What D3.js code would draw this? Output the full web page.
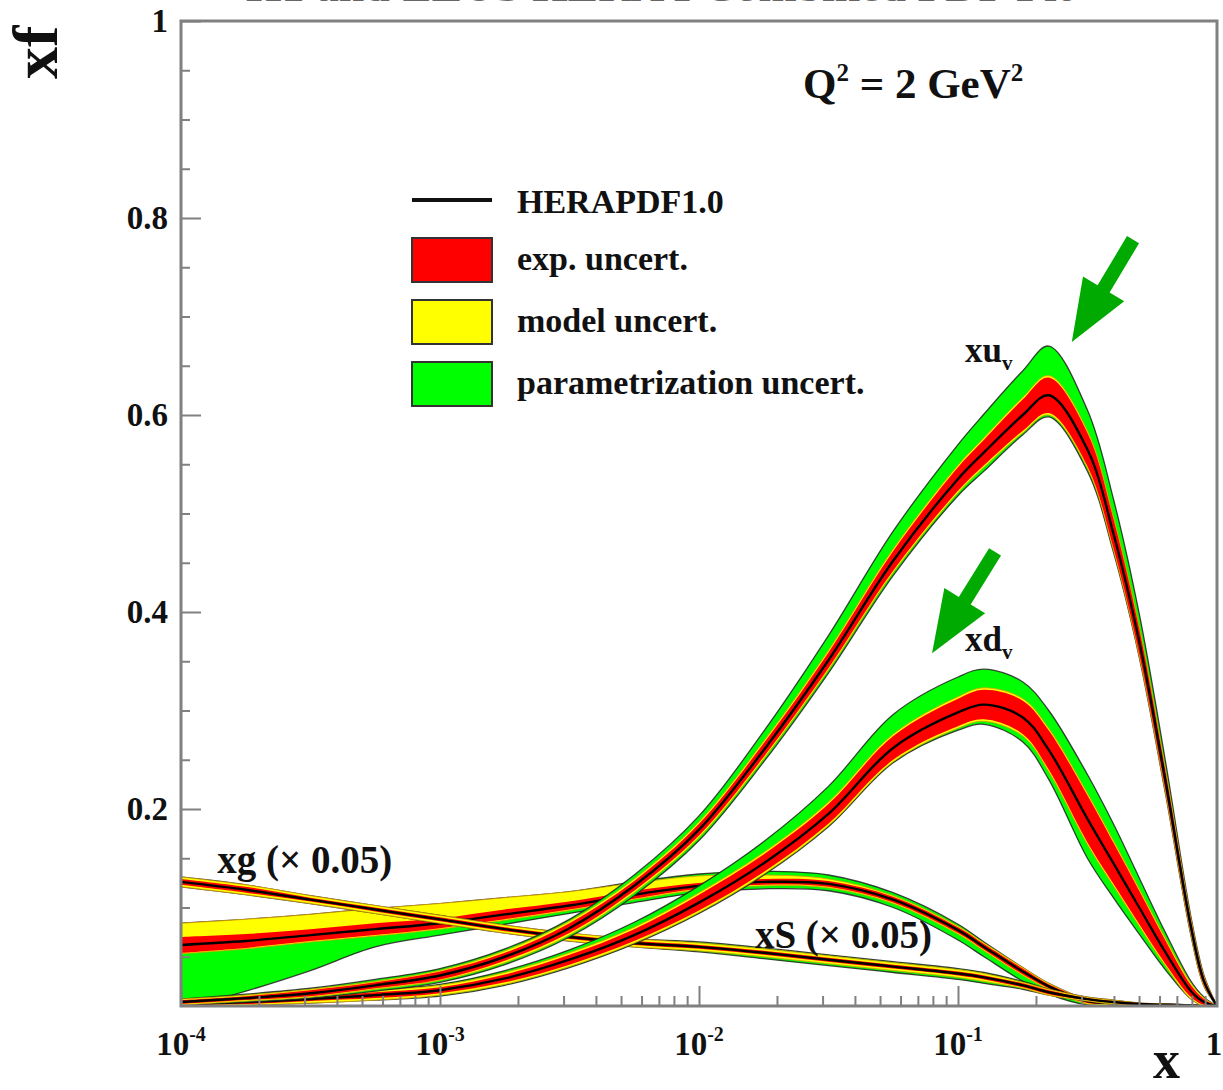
<!DOCTYPE html>
<html>
<head>
<meta charset="utf-8">
<script src="https://cdn.jsdelivr.net/npm/d3@7"></script>
<style>
  body { margin: 0; background: #fff; }
  text { font-family: "Liberation Serif", "DejaVu Serif", serif; font-weight: bold; fill: #111; }
</style>
</head>
<body>
<svg id="chart" width="1223" height="1090"></svg>
<script>
// ---- x grid (Bjorken x) shared by all distributions ----
const xGrid = [1e-4, 1.78e-4, 3.16e-4, 5.62e-4, 1e-3, 1.78e-3, 3.16e-3, 5.62e-3, 0.01, 0.0178, 0.0316, 0.0562,
               0.1, 0.126, 0.178, 0.224, 0.316, 0.398, 0.501, 0.631, 0.794, 0.891, 1.0];

// ---- xu_v : central value and band half-widths (exp, exp+model, total) ----
const uvCentral = [0.004, 0.008, 0.013, 0.021, 0.031, 0.050, 0.079, 0.122, 0.179, 0.260, 0.351, 0.452, 0.535, 0.562, 0.600, 0.620, 0.565, 0.480, 0.370, 0.230, 0.080, 0.025, 0];
const uvExp     = [0.002, 0.002, 0.003, 0.003, 0.004, 0.004, 0.005, 0.005, 0.006, 0.007, 0.008, 0.010, 0.012, 0.013, 0.016, 0.018, 0.017, 0.015, 0.013, 0.010, 0.006, 0.004, 0];
const uvModUp   = [0.003, 0.003, 0.004, 0.004, 0.005, 0.006, 0.007, 0.007, 0.008, 0.009, 0.010, 0.012, 0.014, 0.015, 0.018, 0.020, 0.019, 0.017, 0.015, 0.012, 0.008, 0.005, 0];
const uvModDn   = [0.003, 0.003, 0.004, 0.004, 0.005, 0.006, 0.007, 0.007, 0.008, 0.009, 0.010, 0.012, 0.014, 0.015, 0.018, 0.020, 0.019, 0.017, 0.015, 0.012, 0.008, 0.005, 0];
const uvTotUp   = [0.003, 0.004, 0.005, 0.006, 0.007, 0.008, 0.009, 0.011, 0.014, 0.019, 0.025, 0.030, 0.035, 0.039, 0.045, 0.050, 0.040, 0.035, 0.028, 0.020, 0.010, 0.006, 0];
const uvTotDn   = [0.003, 0.004, 0.005, 0.006, 0.007, 0.008, 0.009, 0.010, 0.011, 0.012, 0.013, 0.015, 0.017, 0.019, 0.020, 0.022, 0.022, 0.019, 0.016, 0.013, 0.009, 0.005, 0];

// ---- xd_v ----
const dvCentral = [0.002, 0.004, 0.007, 0.011, 0.016, 0.028, 0.047, 0.072, 0.105, 0.145, 0.195, 0.262, 0.298, 0.306, 0.293, 0.260, 0.190, 0.145, 0.100, 0.055, 0.015, 0.004, 0];
const dvExp     = [0.001, 0.002, 0.002, 0.003, 0.003, 0.004, 0.005, 0.006, 0.008, 0.009, 0.010, 0.012, 0.014, 0.015, 0.017, 0.020, 0.024, 0.021, 0.017, 0.012, 0.006, 0.003, 0];
const dvModUp   = [0.002, 0.003, 0.004, 0.005, 0.005, 0.006, 0.007, 0.008, 0.010, 0.011, 0.012, 0.014, 0.016, 0.017, 0.019, 0.022, 0.026, 0.023, 0.019, 0.014, 0.008, 0.004, 0];
const dvModDn   = [0.002, 0.003, 0.004, 0.005, 0.005, 0.006, 0.007, 0.008, 0.010, 0.011, 0.012, 0.014, 0.016, 0.017, 0.019, 0.022, 0.026, 0.023, 0.019, 0.014, 0.008, 0.004, 0];
const dvTotUp   = [0.002, 0.003, 0.004, 0.005, 0.006, 0.008, 0.010, 0.013, 0.017, 0.022, 0.028, 0.034, 0.036, 0.036, 0.036, 0.040, 0.045, 0.040, 0.030, 0.020, 0.010, 0.005, 0];
const dvTotDn   = [0.002, 0.003, 0.004, 0.005, 0.006, 0.007, 0.008, 0.009, 0.011, 0.012, 0.013, 0.015, 0.018, 0.020, 0.025, 0.030, 0.040, 0.035, 0.027, 0.018, 0.008, 0.004, 0];

// ---- xS (x 0.05) ----
const seaCentral = [0.126, 0.118, 0.108, 0.098, 0.088, 0.078, 0.070, 0.064, 0.060, 0.054, 0.047, 0.040, 0.033, 0.029, 0.021, 0.014, 0.007, 0.004, 0.002, 0.0012, 0.0005, 0.0002, 0];
const seaExp     = [0.003, 0.003, 0.002, 0.002, 0.002, 0.002, 0.002, 0.002, 0.002, 0.002, 0.002, 0.002, 0.002, 0.002, 0.002, 0.002, 0.001, 0.001, 0.001, 0.0005, 0.0003, 0.0001, 0];
const seaModUp   = [0.005, 0.005, 0.004, 0.004, 0.004, 0.004, 0.004, 0.004, 0.004, 0.004, 0.004, 0.004, 0.004, 0.004, 0.003, 0.003, 0.002, 0.002, 0.001, 0.001, 0.0005, 0.0002, 0];
const seaModDn   = [0.005, 0.005, 0.004, 0.004, 0.004, 0.004, 0.004, 0.004, 0.004, 0.004, 0.004, 0.004, 0.004, 0.004, 0.003, 0.003, 0.002, 0.002, 0.001, 0.001, 0.0005, 0.0002, 0];
const seaTotUp   = [0.005, 0.005, 0.004, 0.004, 0.004, 0.004, 0.004, 0.004, 0.005, 0.005, 0.005, 0.005, 0.005, 0.005, 0.004, 0.003, 0.002, 0.002, 0.001, 0.001, 0.0005, 0.0002, 0];
const seaTotDn   = [0.005, 0.005, 0.004, 0.004, 0.004, 0.004, 0.004, 0.004, 0.005, 0.006, 0.006, 0.006, 0.006, 0.006, 0.004, 0.003, 0.002, 0.002, 0.001, 0.001, 0.0005, 0.0002, 0];

// ---- xg (x 0.05) ----
const gCentral = [0.062, 0.066, 0.072, 0.078, 0.084, 0.093, 0.102, 0.113, 0.122, 0.126, 0.124, 0.108, 0.077, 0.060, 0.035, 0.020, 0.005, 0.003, 0.0015, 0.0008, 0.0003, 0.0001, 0];
const gExp     = [0.008, 0.007, 0.006, 0.006, 0.005, 0.005, 0.004, 0.004, 0.003, 0.003, 0.003, 0.003, 0.003, 0.003, 0.003, 0.002, 0.002, 0.001, 0.001, 0.0005, 0.0002, 0.0001, 0];
const gModUp   = [0.022, 0.022, 0.021, 0.021, 0.020, 0.017, 0.014, 0.012, 0.010, 0.007, 0.005, 0.004, 0.004, 0.004, 0.004, 0.003, 0.002, 0.002, 0.001, 0.001, 0.0003, 0.0001, 0];
const gModDn   = [0.009, 0.008, 0.007, 0.007, 0.006, 0.006, 0.005, 0.005, 0.004, 0.004, 0.004, 0.004, 0.004, 0.004, 0.004, 0.003, 0.003, 0.002, 0.001, 0.001, 0.0003, 0.0001, 0];
const gTotUp   = [0.022, 0.022, 0.021, 0.021, 0.020, 0.017, 0.014, 0.013, 0.012, 0.011, 0.009, 0.007, 0.006, 0.005, 0.004, 0.003, 0.002, 0.002, 0.001, 0.001, 0.0003, 0.0001, 0];
const gTotDn   = [0.066, 0.051, 0.036, 0.018, 0.012, 0.010, 0.008, 0.008, 0.007, 0.007, 0.007, 0.008, 0.010, 0.010, 0.010, 0.008, 0.004, 0.002, 0.001, 0.001, 0.0003, 0.0001, 0];

// ---- axis tick labels ----
const xTickValues = [1e-4, 1e-3, 1e-2, 1e-1, 1];
const xTickBases = ['10', '10', '10', '10', '1'];
const xTickExponents = ['-4', '-3', '-2', '-1', ''];
const yTickValues = [0.2, 0.4, 0.6, 0.8, 1];
const yTickLabels = ['0.2', '0.4', '0.6', '0.8', '1'];

// ---- legend entries ----
const legendLabels = ['HERAPDF1.0', 'exp. uncert.', 'model uncert.', 'parametrization uncert.'];
const bandColors = { total: '#00ff00', model: '#ffff00', exp: '#ff0000' };

// ---- annotations (data coordinates) ----
const arrowTails = [[0.474, 0.778], [0.139, 0.461]];
const arrowTips  = [[0.275, 0.674], [0.0794, 0.358]];

// ---------------------------------------------------------------
const W = 1223, H = 1090;
const plot = { left: 181, right: 1217, top: 21, bottom: 1006 };
const svg = d3.select('#chart');

const x = d3.scaleLog().domain([1e-4, 1]).range([plot.left, plot.right]);
const y = d3.scaleLinear().domain([0, 1]).range([plot.bottom, plot.top]);

svg.append('rect').attr('width', W).attr('height', H).attr('fill', '#fff');

// figure title, sitting above the page edge
svg.append('text')
  .attr('x', 659).attr('y', 1).attr('text-anchor', 'middle')
  .attr('font-size', 44).attr('textLength', 826).attr('lengthAdjust', 'spacingAndGlyphs')
  .style('fill', '#666')
  .text('H1 and ZEUS HERA I Combined PDF Fit');

svg.append('defs').append('clipPath').attr('id', 'plotClip')
  .append('rect')
  .attr('x', plot.left).attr('y', plot.top)
  .attr('width', plot.right - plot.left).attr('height', plot.bottom - plot.top);

const smooth = d3.curveCatmullRom.alpha(0.5);
const area = d3.area()
  .x(d => x(d.x)).y0(d => y(d.lo)).y1(d => y(d.hi))
  .curve(smooth);
const line = d3.line()
  .x(d => x(d.x)).y(d => y(d.v))
  .curve(smooth);

function bandRows(central, dn, up) {
  return xGrid.map((xv, i) => ({ x: xv, lo: central[i] - dn[i], hi: central[i] + up[i] }));
}
function centralRows(central) {
  return xGrid.map((xv, i) => ({ x: xv, v: central[i] }));
}

const distributions = [
  { id: 'g',   central: gCentral,   exp: gExp,   modUp: gModUp,   modDn: gModDn,   totUp: gTotUp,   totDn: gTotDn },
  { id: 'sea', central: seaCentral, exp: seaExp, modUp: seaModUp, modDn: seaModDn, totUp: seaTotUp, totDn: seaTotDn },
  { id: 'dv',  central: dvCentral,  exp: dvExp,  modUp: dvModUp,  modDn: dvModDn,  totUp: dvTotUp,  totDn: dvTotDn },
  { id: 'uv',  central: uvCentral,  exp: uvExp,  modUp: uvModUp,  modDn: uvModDn,  totUp: uvTotUp,  totDn: uvTotDn }
];

const bands = svg.append('g').attr('clip-path', 'url(#plotClip)');
distributions.forEach(p => {
  const g = bands.append('g').attr('class', 'pdf-' + p.id);
  g.append('path').datum(bandRows(p.central, p.totDn, p.totUp))
    .attr('d', area).attr('fill', bandColors.total)
    .attr('stroke', '#222').attr('stroke-width', 1.3).attr('stroke-opacity', 0.85);
  g.append('path').datum(bandRows(p.central, p.modDn, p.modUp))
    .attr('d', area).attr('fill', bandColors.model)
    .attr('stroke', '#d99a00').attr('stroke-width', 0.8);
  g.append('path').datum(bandRows(p.central, p.exp, p.exp))
    .attr('d', area).attr('fill', bandColors.exp);
  g.append('path').datum(centralRows(p.central))
    .attr('d', line).attr('fill', 'none')
    .attr('stroke', '#000').attr('stroke-width', 2.4);
});

// ---- axes ----
const axisColor = '#808080';
function styleTicks(g) {
  g.select('.domain').remove();
  g.selectAll('.tick line').attr('stroke', axisColor).attr('stroke-width', 2);
}

const xMinor = x.ticks().filter(t => Math.abs(Math.log10(t) - Math.round(Math.log10(t))) > 1e-6);
svg.append('g').attr('transform', `translate(0,${plot.bottom})`)
  .call(d3.axisBottom(x).tickValues(xMinor).tickSize(-10).tickFormat(''))
  .call(styleTicks);
svg.append('g').attr('transform', `translate(0,${plot.bottom})`)
  .call(d3.axisBottom(x).tickValues(xTickValues.slice(0, 4)).tickSize(-20).tickFormat(''))
  .call(styleTicks);

const xLabels = svg.append('g').selectAll('text')
  .data(xTickValues)
  .join('text')
  .attr('x', (d, i) => x(d) + (i === 4 ? -3 : 0))
  .attr('y', 1055)
  .attr('text-anchor', 'middle')
  .attr('font-size', 33);
xLabels.append('tspan').text((d, i) => xTickBases[i]);
xLabels.append('tspan')
  .attr('font-size', 20).attr('dy', -14)
  .text((d, i) => xTickExponents[i]);

const yMinor = d3.range(1, 20).filter(i => i % 4 !== 0).map(i => i * 0.05);
svg.append('g').attr('transform', `translate(${plot.left},0)`)
  .call(d3.axisLeft(y).tickValues(yMinor).tickSize(-9).tickFormat(''))
  .call(styleTicks);
svg.append('g').attr('transform', `translate(${plot.left},0)`)
  .call(d3.axisLeft(y).tickValues(yTickValues).tickSize(-20).tickPadding(13)
        .tickFormat((d, i) => yTickLabels[i]))
  .call(styleTicks)
  .call(g => g.selectAll('.tick text')
    .attr('font-size', 33).attr('font-family', null).style('fill', '#111'));

// frame
svg.append('rect')
  .attr('x', plot.left).attr('y', plot.top)
  .attr('width', plot.right - plot.left).attr('height', plot.bottom - plot.top)
  .attr('fill', 'none').attr('stroke', axisColor).attr('stroke-width', 3);

// axis titles
svg.append('text')
  .attr('transform', 'translate(57,79) rotate(-90)')
  .attr('font-size', 64).text('xf');
svg.append('text')
  .attr('x', 1153).attr('y', 1078)
  .attr('font-size', 54).text('x');

// ---- in-plot labels ----
function subLabel(xv, yv, main, sub, size) {
  const t = svg.append('text').attr('x', x(xv)).attr('y', y(yv)).attr('font-size', size);
  t.append('tspan').text(main);
  t.append('tspan').attr('font-size', size * 0.6).attr('dy', size * 0.22).text(sub);
}
subLabel(0.1064, 0.654, 'xu', 'v', 35);
subLabel(0.1064, 0.360, 'xd', 'v', 35);

svg.append('text').attr('x', x(1.38e-4)).attr('y', y(0.135)).attr('font-size', 39).text('xg (\u00d7 0.05)');
svg.append('text').attr('x', x(0.01644)).attr('y', y(0.0589)).attr('font-size', 39).text('xS (\u00d7 0.05)');

const q = svg.append('text').attr('x', x(0.0252)).attr('y', y(0.922)).attr('font-size', 43);
q.append('tspan').text('Q');
q.append('tspan').attr('font-size', 25).attr('dy', -17).text('2');
q.append('tspan').attr('dy', 17).text(' = 2 GeV');
q.append('tspan').attr('font-size', 25).attr('dy', -17).text('2');

// ---- arrows ----
function arrowPath(tail, tip) {
  const t = [x(tail[0]), y(tail[1])], h = [x(tip[0]), y(tip[1])];
  const dx = h[0] - t[0], dy = h[1] - t[1], len = Math.hypot(dx, dy);
  const ux = dx / len, uy = dy / len, px = -uy, py = ux;
  const headLen = 62, headW = 24, shaftW = 7;
  const b = [h[0] - ux * headLen, h[1] - uy * headLen];
  const pts = [
    [t[0] + px * shaftW, t[1] + py * shaftW],
    [b[0] + px * shaftW, b[1] + py * shaftW],
    [b[0] + px * headW, b[1] + py * headW],
    h,
    [b[0] - px * headW, b[1] - py * headW],
    [b[0] - px * shaftW, b[1] - py * shaftW],
    [t[0] - px * shaftW, t[1] - py * shaftW]
  ];
  return 'M' + pts.map(p => p.join(',')).join('L') + 'Z';
}
svg.append('g').selectAll('path')
  .data(d3.zip(arrowTails, arrowTips))
  .join('path')
  .attr('d', d => arrowPath(d[0], d[1]))
  .attr('fill', '#00aa00');

// ---- legend ----
const legend = svg.append('g').attr('transform', 'translate(412,200)');
legend.append('line').attr('x1', 0).attr('x2', 80).attr('y1', 0).attr('y2', 0)
  .attr('stroke', '#111').attr('stroke-width', 4);
const boxFills = [bandColors.exp, bandColors.model, bandColors.total];
legend.selectAll('rect.box').data(boxFills).join('rect')
  .attr('class', 'box')
  .attr('x', 0).attr('y', (d, i) => 38 + i * 62)
  .attr('width', 80).attr('height', 44)
  .attr('fill', d => d).attr('stroke', '#333').attr('stroke-width', 2);
legend.selectAll('text').data(legendLabels).join('text')
  .attr('x', 105).attr('y', (d, i) => i === 0 ? 13 : 70 + (i - 1) * 62)
  .attr('font-size', 34)
  .text(d => d);
</script>
</body>
</html>
